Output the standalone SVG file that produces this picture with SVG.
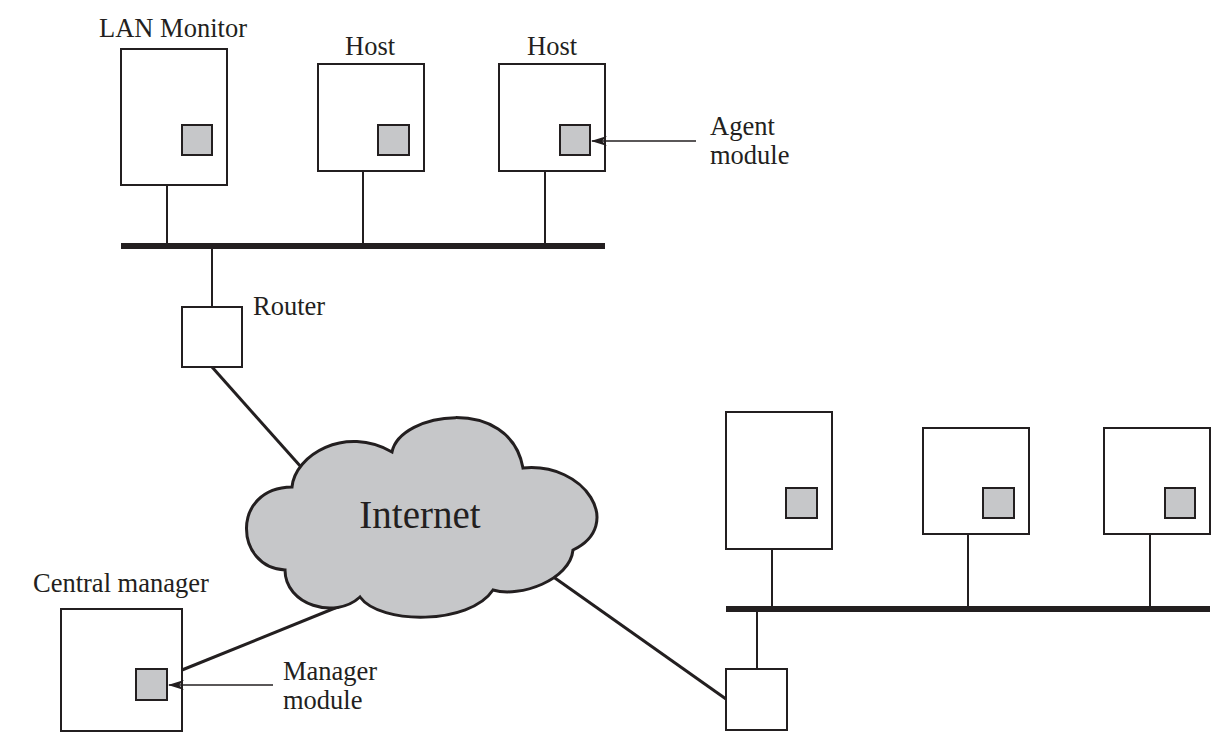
<svg xmlns="http://www.w3.org/2000/svg" width="1218" height="745" viewBox="0 0 1218 745">
<style>
  .box { fill: #ffffff; stroke: #231f20; stroke-width: 2; }
  .mod { fill: #c6c7c9; stroke: #231f20; stroke-width: 2; }
  .drop { stroke: #231f20; stroke-width: 2; fill: none; }
  .bus { stroke: #231f20; stroke-width: 6; fill: none; }
  .link { stroke: #231f20; stroke-width: 3; fill: none; }
  .ptr { stroke: #231f20; stroke-width: 1.6; fill: none; }
  .lbl { font-family: "Liberation Serif", "Times New Roman", serif; font-size: 26.5px; fill: #231f20; }
  .cloud { fill: #c6c7c9; stroke: #231f20; stroke-width: 3; stroke-linejoin: miter; }
</style>
<defs>
  <marker id="arrow" viewBox="0 0 16 10" refX="15" refY="5" markerWidth="16" markerHeight="10" markerUnits="userSpaceOnUse" orient="auto">
    <path d="M0,0 L16,5 L0,10 L5,5 z" fill="#231f20"/>
  </marker>
</defs>
<rect width="1218" height="745" fill="#ffffff"/>

<g id="connectors">
  <line class="bus" x1="121" y1="246" x2="605" y2="246"/>
  <line class="drop" x1="167" y1="185" x2="167" y2="246"/>
  <line class="drop" x1="363" y1="171" x2="363" y2="246"/>
  <line class="drop" x1="545" y1="171" x2="545" y2="246"/>
  <line class="drop" x1="212" y1="246" x2="212" y2="307"/>
  <line class="bus" x1="726" y1="609" x2="1210" y2="609"/>
  <line class="drop" x1="772" y1="549" x2="772" y2="609"/>
  <line class="drop" x1="968" y1="534" x2="968" y2="609"/>
  <line class="drop" x1="1150" y1="534" x2="1150" y2="609"/>
  <line class="drop" x1="757" y1="609" x2="757" y2="669"/>
  <line class="link" x1="212" y1="367" x2="310" y2="477"/>
  <line class="link" x1="182" y1="670" x2="345" y2="604"/>
  <line class="link" x1="726" y1="699" x2="545" y2="571"/>
</g>

<g id="internet">
  <path class="cloud" d="M292,487 C295,455 345,425 392,452 C400,412 510,395 523,468 C585,462 625,525 573,550 C570,580 520,598 493,590 C470,625 380,625 360,597 C335,620 285,605 285,570 C235,568 230,488 292,487 Z"/>
  <text class="lbl" x="420" y="528" text-anchor="middle" style="font-size:39px">Internet</text>
</g>

<g id="lan-monitor">
  <rect class="box" x="121" y="49" width="106" height="136"/>
  <rect class="mod" x="182" y="125" width="30" height="30"/>
  <text class="lbl" x="99" y="37">LAN Monitor</text>
</g>

<g id="host1">
  <rect class="box" x="318" y="64" width="106" height="107"/>
  <rect class="mod" x="378" y="125" width="31" height="30"/>
  <text class="lbl" x="345" y="55">Host</text>
</g>

<g id="host2">
  <rect class="box" x="499" y="64" width="106" height="107"/>
  <rect class="mod" x="560" y="125" width="30" height="30"/>
  <text class="lbl" x="527" y="55">Host</text>
</g>

<g id="router1">
  <rect class="box" x="182" y="307" width="60" height="60"/>
  <text class="lbl" x="253" y="315">Router</text>
</g>

<g id="central-manager">
  <rect class="box" x="61" y="609" width="121" height="122"/>
  <rect class="mod" x="136" y="669" width="31" height="31"/>
  <text class="lbl" x="33" y="592">Central manager</text>
</g>

<g id="host3">
  <rect class="box" x="726" y="412" width="106" height="137"/>
  <rect class="mod" x="786" y="488" width="31" height="30"/>
</g>

<g id="host4">
  <rect class="box" x="923" y="428" width="106" height="106"/>
  <rect class="mod" x="983" y="488" width="31" height="30"/>
</g>

<g id="host5">
  <rect class="box" x="1104" y="428" width="106" height="106"/>
  <rect class="mod" x="1165" y="488" width="30" height="30"/>
</g>

<g id="router2">
  <rect class="box" x="726" y="669" width="61" height="61"/>
</g>

<g id="agent-label">
  <line class="ptr" x1="696" y1="141" x2="592" y2="141" marker-end="url(#arrow)"/>
  <text class="lbl" x="710" y="135">Agent</text>
  <text class="lbl" x="710" y="164">module</text>
</g>

<g id="manager-label">
  <line class="ptr" x1="273" y1="685" x2="169" y2="685" marker-end="url(#arrow)"/>
  <text class="lbl" x="283" y="680">Manager</text>
  <text class="lbl" x="283" y="709">module</text>
</g>
</svg>
